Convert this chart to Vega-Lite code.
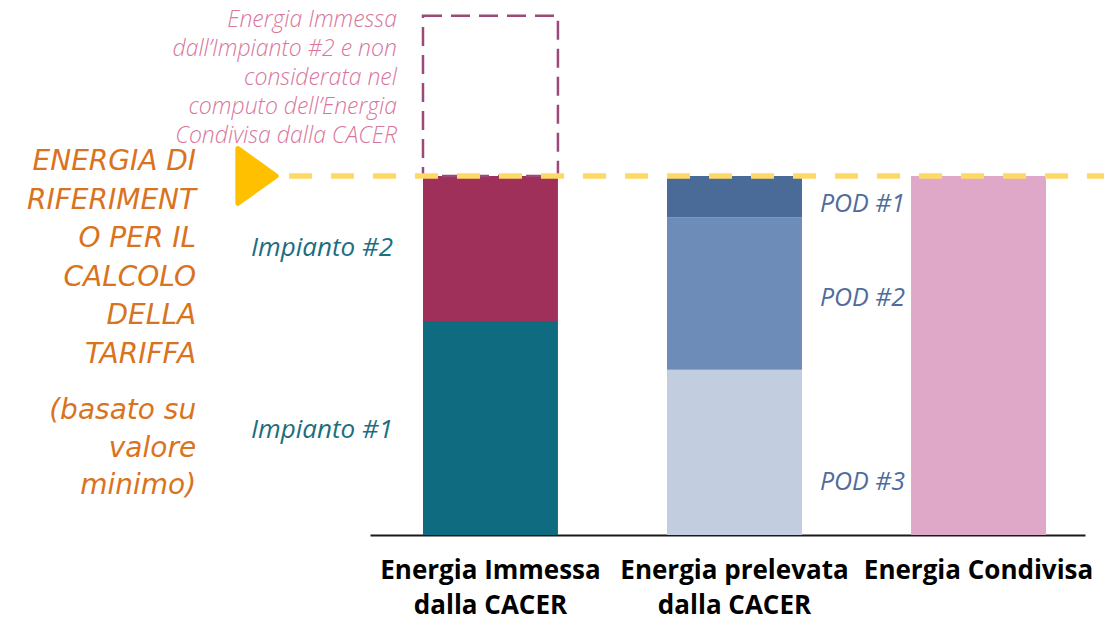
{
  "$schema": "https://vega.github.io/schema/vega-lite/v6.json",
  "width": 715,
  "height": 535,
  "autosize": {"type": "none"},
  "padding": {"left": 370, "right": 19, "top": 0, "bottom": 85},
  "background": "white",
  "config": {"view": {"stroke": null}},
  "datasets": {
    "barre": [
      {"cat": "Energia Immessa|dalla CACER", "parte": "Impianto #1", "ord": 1, "valore": 59.6},
      {"cat": "Energia Immessa|dalla CACER", "parte": "Impianto #2", "ord": 2, "valore": 40.4},
      {"cat": "Energia Immessa|dalla CACER", "parte": "Eccedenza Impianto #2", "ord": 3, "valore": 44.6},
      {"cat": "Energia prelevata|dalla CACER", "parte": "POD #3", "ord": 1, "valore": 46.0},
      {"cat": "Energia prelevata|dalla CACER", "parte": "POD #2", "ord": 2, "valore": 42.4},
      {"cat": "Energia prelevata|dalla CACER", "parte": "POD #1", "ord": 3, "valore": 11.6},
      {"cat": "Energia Condivisa", "parte": "Energia Condivisa", "ord": 1, "valore": 100}
    ],
    "riferimento": [{"soglia": 100}],
    "impianti": [
      {"cat": "Energia Immessa|dalla CACER", "testo": "Impianto #2", "livello": 79.9},
      {"cat": "Energia Immessa|dalla CACER", "testo": "Impianto #1", "livello": 29.2}
    ],
    "pod": [
      {"cat": "Energia prelevata|dalla CACER", "testo": "POD #1", "livello": 92.2},
      {"cat": "Energia prelevata|dalla CACER", "testo": "POD #2", "livello": 66.0},
      {"cat": "Energia prelevata|dalla CACER", "testo": "POD #3", "livello": 14.8}
    ],
    "nota": [
      {"cat": "Energia Immessa|dalla CACER", "testo": "Energia Immessa\ndall’Impianto #2 e non\nconsiderata nel\ncomputo dell’Energia\nCondivisa dalla CACER", "livello": 143.5}
    ],
    "titolo": [
      {"cat": "Energia Immessa|dalla CACER", "testo": "ENERGIA DI\nRIFERIMENT\nO PER IL\nCALCOLO\nDELLA\nTARIFFA", "livello": 103.9}
    ],
    "sottotitolo": [
      {"cat": "Energia Immessa|dalla CACER", "testo": "(basato su\nvalore\nminimo)", "livello": 34.5}
    ]
  },
  "layer": [
    {
      "data": {"name": "barre"},
      "transform": [
        {"stack": "valore", "groupby": ["cat"], "sort": [{"field": "ord"}], "as": ["v0", "v1"]},
        {"filter": "datum.parte !== 'Eccedenza Impianto #2'"}
      ],
      "mark": {"type": "bar"},
      "encoding": {
        "x": {
          "field": "cat", "type": "nominal", "sort": null,
          "scale": {
            "domain": ["Energia Immessa|dalla CACER", "Energia prelevata|dalla CACER", "Energia Condivisa"],
            "paddingInner": 0.447, "paddingOuter": 0.1885, "align": 0.576
          },
          "axis": {
            "title": null, "labelAngle": 0, "ticks": false,
            "domainColor": "#1a1a1a", "domainWidth": 2,
            "labelExpr": "split(datum.label, '|')",
            "labelFont": "Open Sans", "labelFontWeight": "bold", "labelFontSize": 26,
            "labelColor": "#000000", "labelLineHeight": 35, "labelPadding": 22,
            "labelLimit": 400, "labelOverlap": false, "labelBound": false
          }
        },
        "y": {"field": "v0", "type": "quantitative", "scale": {"domain": [0, 149], "nice": false, "zero": true}, "axis": null},
        "y2": {"field": "v1"},
        "color": {
          "field": "parte", "type": "nominal", "legend": null,
          "scale": {
            "domain": ["Impianto #1", "Impianto #2", "POD #3", "POD #2", "POD #1", "Energia Condivisa"],
            "range": ["#0E6B80", "#9E3059", "#C2CEE0", "#6D8CB8", "#4A6A98", "#E0A8C8"]
          }
        }
      }
    },
    {
      "data": {"name": "barre"},
      "transform": [
        {"stack": "valore", "groupby": ["cat"], "sort": [{"field": "ord"}], "as": ["v0", "v1"]},
        {"filter": "datum.parte === 'Eccedenza Impianto #2'"}
      ],
      "mark": {"type": "bar", "fill": null, "fillOpacity": 0, "stroke": "#9B4A78", "strokeWidth": 2.5, "strokeDash": [19, 9]},
      "encoding": {
        "x": {"field": "cat", "type": "nominal", "sort": null},
        "y": {"field": "v0", "type": "quantitative"},
        "y2": {"field": "v1"}
      }
    },
    {
      "data": {"name": "riferimento"},
      "mark": {"type": "rule", "stroke": "#FFD966", "strokeWidth": 5.5, "strokeDash": [23, 19]},
      "encoding": {
        "x": {"datum": "Energia Immessa|dalla CACER", "type": "nominal", "bandPosition": -0.993},
        "x2": {"datum": "Energia Condivisa", "bandPosition": 1.437},
        "y": {"field": "soglia", "type": "quantitative"}
      }
    },
    {
      "data": {"name": "riferimento"},
      "mark": {"type": "point", "shape": "M-0.7,-1L0.7,0L-0.7,1Z", "size": 3000, "filled": true, "fill": "#FFC000", "stroke": "#FFC000", "strokeWidth": 5, "strokeJoin": "round", "opacity": 1},
      "encoding": {
        "x": {"datum": "Energia Immessa|dalla CACER", "type": "nominal", "bandPosition": -1.23},
        "y": {"field": "soglia", "type": "quantitative"}
      }
    },
    {
      "data": {"name": "impianti"},
      "mark": {"type": "text", "align": "right", "baseline": "middle", "font": "Open Sans", "fontStyle": "italic", "fontSize": 26, "color": "#1B6E80"},
      "encoding": {
        "x": {"field": "cat", "type": "nominal", "bandPosition": -0.222},
        "y": {"field": "livello", "type": "quantitative"},
        "text": {"field": "testo"}
      }
    },
    {
      "data": {"name": "pod"},
      "mark": {"type": "text", "align": "left", "baseline": "middle", "font": "Open Sans", "fontStyle": "italic", "fontSize": 25, "color": "#4F6C9C"},
      "encoding": {
        "x": {"field": "cat", "type": "nominal", "bandPosition": 1.133},
        "y": {"field": "livello", "type": "quantitative"},
        "text": {"field": "testo"}
      }
    },
    {
      "data": {"name": "nota"},
      "mark": {"type": "text", "align": "right", "baseline": "middle", "lineBreak": "\n", "lineHeight": 29, "font": "Open Sans", "fontStyle": "italic", "fontWeight": 300, "fontSize": 23, "color": "#D9769D"},
      "encoding": {
        "x": {"field": "cat", "type": "nominal", "bandPosition": -0.193},
        "y": {"field": "livello", "type": "quantitative"},
        "text": {"field": "testo"}
      }
    },
    {
      "data": {"name": "titolo"},
      "mark": {"type": "text", "align": "right", "baseline": "middle", "lineBreak": "\n", "lineHeight": 38.6, "font": "DejaVu Sans", "fontStyle": "italic", "fontSize": 28, "color": "#D9731E"},
      "encoding": {
        "x": {"field": "cat", "type": "nominal", "bandPosition": -1.681},
        "y": {"field": "livello", "type": "quantitative"},
        "text": {"field": "testo"}
      }
    },
    {
      "data": {"name": "sottotitolo"},
      "mark": {"type": "text", "align": "right", "baseline": "middle", "lineBreak": "\n", "lineHeight": 37.5, "font": "DejaVu Sans", "fontStyle": "italic", "fontSize": 28, "color": "#D9731E"},
      "encoding": {
        "x": {"field": "cat", "type": "nominal", "bandPosition": -1.681},
        "y": {"field": "livello", "type": "quantitative"},
        "text": {"field": "testo"}
      }
    }
  ]
}
